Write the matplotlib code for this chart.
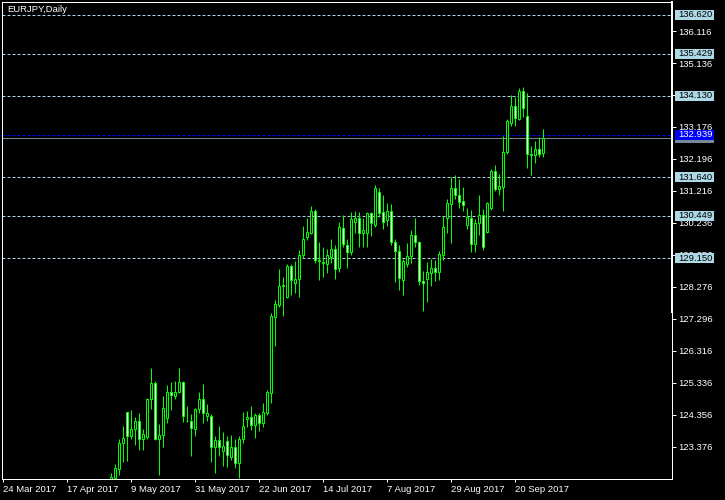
import matplotlib
matplotlib.use("Agg")
import matplotlib.pyplot as plt
import matplotlib.transforms as mtransforms
from matplotlib.patches import Rectangle
import numpy as np
import pandas as pd

plt.rcParams['font.family'] = ['Liberation Sans', 'DejaVu Sans']

# daily EURJPY candles, one per weekday starting 24 Mar 2017
dates = pd.bdate_range('2017-03-24', periods=136)

opens = [120.10, 120.30, 119.80, 120.50, 120.10, 119.60, 118.80, 118.40, 118.00, 117.80,
         117.30, 117.20, 116.70, 116.20, 115.80, 115.90, 115.70, 116.00, 116.50, 116.90,
         117.10, 118.80, 120.60, 121.40, 121.10, 121.20, 121.60, 121.90, 122.40, 122.68,
         123.48, 124.43, 123.69, 123.91, 124.16, 123.62, 123.66, 124.83, 125.32, 123.62,
         123.73, 124.24, 125.05, 124.94, 125.04, 125.35, 124.17, 124.17, 123.93, 124.52,
         124.83, 124.32, 124.32, 123.36, 123.58, 123.23, 123.55, 123.07, 123.36, 122.87,
         123.61, 124.22, 124.28, 124.03, 124.34, 124.09, 124.40, 125.01, 127.35, 127.73,
         128.29, 127.95, 128.92, 128.39, 128.51, 129.25, 129.79, 129.92, 130.59, 129.10,
         129.00, 128.97, 129.19, 129.43, 128.84, 130.07, 129.56, 129.34, 130.25, 130.38,
         129.92, 129.92, 130.54, 130.17, 131.18, 130.57, 130.31, 130.61, 129.65, 129.38,
         128.48, 128.97, 129.21, 129.86, 129.66, 128.46, 128.51, 128.70, 128.85, 128.72,
         129.24, 130.38, 130.80, 131.30, 131.08, 130.90, 130.16, 130.40, 129.58, 130.23,
         130.47, 129.96, 130.70, 131.83, 131.29, 131.35, 132.40, 133.29, 133.82, 133.42,
         134.27, 133.51, 132.31, 132.31, 132.50, 132.38]
highs = [120.45, 120.50, 120.70, 120.70, 120.40, 119.80, 119.10, 118.60, 118.30, 118.00,
         117.60, 117.40, 117.00, 116.40, 116.10, 116.20, 116.20, 116.70, 117.20, 117.40,
         117.30, 120.80, 121.60, 121.70, 121.50, 121.80, 122.20, 122.56, 122.84, 123.60,
         124.01, 124.45, 124.50, 124.28, 124.40, 123.92, 124.86, 125.79, 125.39, 124.06,
         124.93, 125.27, 125.36, 125.39, 125.79, 125.40, 124.63, 124.38, 124.55, 125.06,
         125.30, 124.69, 124.38, 123.71, 124.01, 123.83, 123.71, 123.74, 123.60, 123.71,
         124.45, 124.47, 124.63, 124.42, 124.42, 124.70, 125.12, 127.47, 127.86, 128.83,
         128.59, 128.98, 128.98, 129.08, 129.41, 130.13, 130.38, 130.76, 130.66, 129.66,
         129.49, 129.43, 129.74, 129.55, 130.25, 130.48, 129.74, 130.58, 130.61, 130.58,
         130.40, 130.58, 130.58, 131.40, 131.30, 131.10, 130.84, 130.82, 129.74, 129.55,
         129.13, 129.63, 130.02, 130.40, 129.69, 128.77, 129.03, 129.13, 129.10, 129.36,
         130.45, 130.98, 131.63, 131.71, 131.59, 131.34, 130.69, 130.64, 130.35, 131.10,
         130.66, 130.89, 131.90, 132.02, 131.74, 132.91, 133.43, 134.17, 134.11, 134.37,
         134.40, 134.22, 132.60, 132.75, 132.88, 133.12]
lows = [119.80, 119.00, 119.60, 119.90, 119.30, 118.60, 118.20, 117.70, 117.50, 117.10,
        116.90, 116.40, 116.00, 115.50, 115.30, 115.40, 114.85, 115.80, 116.30, 116.60,
        116.50, 118.60, 120.40, 120.90, 120.80, 121.00, 121.30, 121.80, 122.20, 122.51,
        122.89, 122.94, 123.60, 123.43, 123.28, 123.26, 123.61, 124.53, 123.58, 122.51,
        123.35, 124.09, 124.50, 124.83, 125.02, 124.12, 124.14, 123.10, 123.69, 124.40,
        124.09, 124.15, 122.89, 122.58, 123.09, 122.77, 122.74, 122.97, 122.71, 122.41,
        123.50, 123.99, 123.89, 123.63, 123.84, 123.97, 124.35, 124.71, 126.45, 127.67,
        127.39, 127.93, 128.01, 128.10, 127.95, 129.15, 129.72, 129.90, 129.02, 128.47,
        128.57, 128.71, 129.02, 128.53, 128.74, 129.51, 128.84, 129.25, 129.92, 129.51,
        129.51, 129.51, 129.82, 130.10, 130.43, 130.05, 130.15, 129.57, 128.41, 128.18,
        128.01, 128.88, 129.02, 129.51, 128.34, 127.52, 127.80, 128.29, 128.44, 128.49,
        129.10, 129.94, 129.63, 130.96, 130.69, 130.61, 130.05, 129.35, 129.33, 129.87,
        129.41, 129.92, 130.64, 131.22, 131.08, 130.59, 132.36, 133.22, 133.22, 133.38,
        133.48, 131.91, 131.71, 132.07, 132.27, 132.26]
closes = [120.30, 119.80, 120.50, 120.10, 119.60, 118.80, 118.40, 117.90, 117.80, 117.30,
          117.20, 116.70, 116.20, 115.80, 115.90, 115.70, 116.00, 116.50, 116.90, 117.10,
          116.90, 120.60, 121.40, 121.10, 121.20, 121.50, 121.90, 122.44, 122.71, 123.48,
          123.63, 123.71, 123.91, 124.17, 123.62, 123.76, 124.83, 125.32, 123.60, 123.73,
          124.55, 125.05, 124.95, 125.05, 125.35, 124.30, 124.15, 123.94, 124.52, 124.83,
          124.40, 124.40, 123.36, 123.58, 123.36, 123.40, 123.12, 123.36, 122.87, 123.61,
          124.01, 124.29, 124.05, 124.34, 124.09, 124.44, 125.04, 127.39, 127.75, 128.31,
          128.33, 128.92, 128.47, 128.52, 129.26, 129.74, 129.95, 130.59, 129.10, 129.06,
          129.04, 129.25, 129.43, 128.82, 130.11, 129.58, 129.34, 130.35, 130.38, 129.92,
          130.01, 130.54, 130.23, 131.30, 130.54, 130.26, 130.61, 129.64, 129.36, 128.56,
          129.07, 129.21, 129.86, 129.65, 128.44, 128.39, 128.73, 128.85, 128.73, 129.28,
          130.12, 130.84, 131.30, 131.09, 130.87, 130.78, 130.42, 129.58, 130.23, 130.47,
          129.51, 130.84, 131.83, 131.29, 131.37, 132.41, 133.37, 133.82, 133.44, 134.28,
          133.75, 132.35, 132.36, 132.51, 132.36, 132.84]

date_labels = ['24 Mar 2017', '17 Apr 2017', '9 May 2017', '31 May 2017', '22 Jun 2017',
               '14 Jul 2017', '7 Aug 2017', '29 Aug 2017', '20 Sep 2017']
price_ticks = [136.116, 135.136, 134.156, 133.176, 132.196, 131.216, 130.236, 129.256,
               128.276, 127.296, 126.316, 125.336, 124.356, 123.376]
levels = [136.620, 135.429, 134.130, 131.640, 130.449, 129.150]
bid_price = 132.939

green = '#00ff00'
level_col = '#add8e6'
px = 0.72  # one pixel in points
fs = 6.8

fig = plt.figure(figsize=(7.25, 5.0), dpi=100, facecolor='black')
ax = fig.add_axes([2 / 725, 21 / 500, 670 / 725, 477 / 500], facecolor='black')

o = np.array(opens)
h = np.array(highs)
l = np.array(lows)
c = np.array(closes)
idx = np.arange(len(o))

ax.vlines(idx, l, h, color=green, lw=px, zorder=3)
fills = np.where(c >= o, 'black', 'white')
ax.bar(idx, np.abs(c - o), bottom=np.minimum(o, c), width=0.5, color=fills,
       edgecolor=green, linewidth=px, zorder=4)

for lv in levels:
    ax.axhline(lv, color=level_col, lw=px, ls=(0, (3, 2)), zorder=2)
ax.axhline(bid_price, color='#0000ff', lw=px, ls=(0, (3, 2)), zorder=2)
ax.axhline(c[-1], color='#778899', lw=px, zorder=2)

ax.set_xlim(-0.175, 167.3)
ax.set_ylim(122.382, 137.009)

# axes frame and ticks
for s in ax.spines.values():
    s.set_color('white')
    s.set_linewidth(px)
ax.plot([1, 1], [0.35, 1], transform=ax.transAxes, color='white', lw=2 * px,
        clip_on=False, zorder=6)

tick_pos = [dates.get_loc(pd.Timestamp(d)) for d in date_labels]
ax.set_xticks(tick_pos)
ax.set_xticklabels(date_labels, ha='left')
ax.yaxis.tick_right()
ax.set_yticks(price_ticks)
ax.set_yticklabels(['%.3f' % p for p in price_ticks])
ax.tick_params(axis='x', colors='white', direction='out', length=3 * px, width=px,
               pad=2, labelsize=fs)
ax.tick_params(axis='y', colors='white', direction='out', length=4 * px, width=px,
               pad=1.5, labelsize=fs)

# price labels on the right scale
blend = mtransforms.blended_transform_factory(ax.transAxes, ax.transData)
box_h = 10 / 32.61
box_x = 673 / 670
box_w = 39 / 670
txt_x = 676 / 670


def tag(price, fc, tc, z, text=None):
    ax.add_patch(Rectangle((box_x, price - box_h / 2), box_w, box_h, transform=blend,
                           facecolor=fc, edgecolor='none', clip_on=False, zorder=z))
    ax.text(txt_x, price, text or '%.3f' % price, transform=blend, ha='left',
            va='center', fontsize=fs, color=tc, clip_on=False, zorder=z + 0.1)


for lv in levels:
    tag(lv, level_col, 'black', 10)
tag(c[-1], '#778899', 'black', 11)
tag(bid_price, '#0000ff', 'white', 12)

fig.text(7 / 725, 1 - 10 / 500, 'EURJPY,Daily', color='white', fontsize=fs,
         ha='left', va='center')

fig.savefig('out.png', dpi=100, facecolor='black')
